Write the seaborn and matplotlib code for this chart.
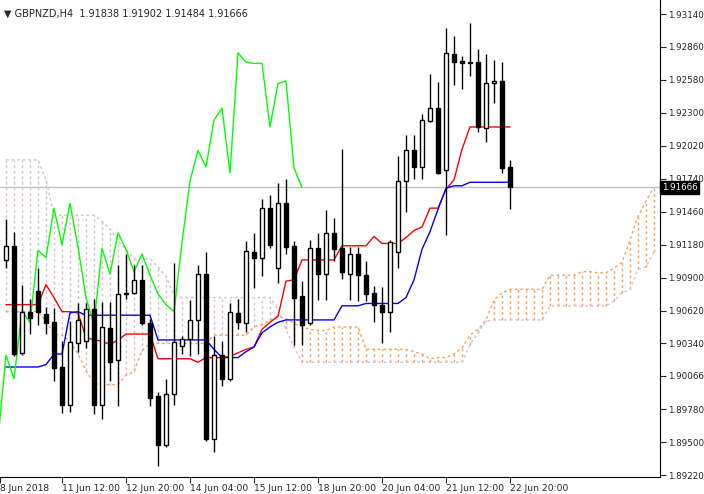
import matplotlib
matplotlib.use("Agg")
import matplotlib.pyplot as plt
import numpy as np
import seaborn as sns

sns.set_style("white")
plt.rcParams['font.family'] = ['DejaVu Sans']

# GBPNZD H4 candles (open, high, low, close)
opens = [1.9105, 1.9117, 1.9026, 1.9061, 1.9079, 1.9059, 1.9052, 1.9014, 1.8982, 1.9034,
         1.9036, 1.9063, 1.8982, 1.9047, 1.9020, 1.9076, 1.9077, 1.9088, 1.9051, 1.8989,
         1.8948, 1.8991, 1.9032, 1.9038, 1.9054, 1.9093, 1.8953, 1.9024, 1.9004, 1.9060,
         1.9051, 1.9112, 1.9107, 1.9149, 1.9098, 1.9153, 1.9117, 1.9074, 1.9051, 1.9115,
         1.9093, 1.9128, 1.9115, 1.9093, 1.9110, 1.9092, 1.9077, 1.9067, 1.9061, 1.9112,
         1.9172, 1.9198, 1.9184, 1.9223, 1.9234, 1.9181, 1.9280, 1.9274, 1.9273, 1.9273,
         1.9217, 1.9255, 1.9257, 1.91838]
highs = [1.9140, 1.9129, 1.9084, 1.9072, 1.9098, 1.9065, 1.9064, 1.9036, 1.9053, 1.9068,
         1.9068, 1.9072, 1.9069, 1.9069, 1.9101, 1.9110, 1.9101, 1.9101, 1.9055, 1.8993,
         1.9004, 1.9102, 1.9040, 1.9071, 1.9101, 1.9112, 1.9040, 1.9036, 1.9068, 1.9072,
         1.9121, 1.9128, 1.9157, 1.9160, 1.9170, 1.9174, 1.9121, 1.9087, 1.9122, 1.9128,
         1.9147, 1.9141, 1.9199, 1.9116, 1.9116, 1.9104, 1.9083, 1.9082, 1.9122, 1.9193,
         1.9211, 1.9211, 1.9229, 1.9263, 1.9256, 1.9302, 1.9295, 1.9278, 1.9306, 1.9284,
         1.9280, 1.9275, 1.9273, 1.91902]
lows = [1.9098, 1.9023, 1.9024, 1.9042, 1.9050, 1.9042, 1.9002, 1.8975, 1.8976, 1.9027,
        1.9030, 1.8974, 1.8970, 1.9002, 1.8981, 1.9072, 1.9076, 1.9050, 1.8981, 1.8930,
        1.8946, 1.8982, 1.9025, 1.9023, 1.9025, 1.8951, 1.8942, 1.8998, 1.9002, 1.9046,
        1.9044, 1.9081, 1.9091, 1.9115, 1.9085, 1.9110, 1.9033, 1.9033, 1.9050, 1.9071,
        1.9071, 1.9104, 1.9089, 1.9071, 1.9070, 1.9070, 1.9052, 1.9034, 1.9044, 1.9098,
        1.9146, 1.9174, 1.9174, 1.9222, 1.9178, 1.9126, 1.9254, 1.9250, 1.9261, 1.9214,
        1.9205, 1.9238, 1.9179, 1.91484]
closes = [1.9117, 1.9025, 1.9061, 1.9056, 1.9061, 1.9051, 1.9013, 1.8982, 1.9035, 1.9054,
          1.9063, 1.8982, 1.9048, 1.9018, 1.9076, 1.9077, 1.9088, 1.9051, 1.8988, 1.8948,
          1.8991, 1.9035, 1.9038, 1.9054, 1.9093, 1.8953, 1.9024, 1.9004, 1.9061, 1.9052,
          1.9113, 1.9107, 1.9149, 1.9118, 1.9153, 1.9116, 1.9073, 1.9050, 1.9115, 1.9093,
          1.9128, 1.9114, 1.9095, 1.9110, 1.9092, 1.9076, 1.9067, 1.9061, 1.9120, 1.9172,
          1.9198, 1.9184, 1.9224, 1.9234, 1.9179, 1.9281, 1.9273, 1.9272, 1.9272, 1.9218,
          1.9255, 1.9257, 1.9183, 1.91666]

# Ichimoku lines
tenkan = [1.9067] * 5 + [1.9084, 1.9073, 1.9061, 1.9061, 1.9060, 1.9039, 1.9037, 1.9036,
          1.9033, 1.9037] + [1.9042] * 4 + [1.9021] * 5 + [1.9018, 1.9022, 1.9022, 1.9022,
          1.9023, 1.9026, 1.9029, 1.9031, 1.9046, 1.9052, 1.9057, 1.9087, 1.9088] + \
         [1.9105] * 5 + [1.9117] * 4 + [1.9125, 1.9119, 1.9119, 1.9119, 1.9124, 1.9130,
          1.9133, 1.9149, 1.9149, 1.9165, 1.9173, 1.9199] + [1.9218] * 6
kijun = [1.9014] * 5 + [1.9016, 1.9025, 1.9025, 1.9060, 1.9061] + [1.9058] * 9 + \
        [1.9037] * 7 + [1.9029, 1.9022, 1.9022, 1.9022, 1.9027, 1.9031, 1.9043, 1.9048,
        1.9052] + [1.9054] * 7 + [1.9066] * 3 + [1.9068] * 5 + [1.9073, 1.9088, 1.9114,
        1.9129, 1.9148, 1.9166, 1.9168, 1.9168] + [1.9171] * 6
span_a = [1.9061] * 5 + [1.9053, 1.9042, 1.9041, 1.9036, 1.9025, 1.9011, 1.9000, 1.8999,
          1.8999, 1.8999, 1.9007, 1.9010, 1.9028] + [1.9034] * 8 + [1.9041] * 5 + \
         [1.9048, 1.9050, 1.9054, 1.9057, 1.9055, 1.9051, 1.9048, 1.9046, 1.9045, 1.9045] + \
         [1.9048] * 4 + [1.9029] * 6 + [1.9027, 1.9025, 1.9021, 1.9022, 1.9022, 1.9025,
          1.9030, 1.9041, 1.9046, 1.9054, 1.9071, 1.9077] + [1.9080] * 5 + [1.9092] * 4 + \
         [1.9095, 1.9095, 1.9094, 1.9094, 1.9098, 1.9103, 1.9122, 1.9142, 1.9155, 1.9167]
span_b = [1.9190] * 5 + [1.9173] + [1.9143] * 6 + [1.9138, 1.9131, 1.9121, 1.9114,
          1.9106, 1.9106, 1.9106, 1.9099, 1.9091, 1.9075] + [1.9073] * 12 + \
         [1.9063, 1.9046, 1.9031] + [1.9018] * 21 + [1.9033, 1.9043, 1.9053] + \
         [1.9054] * 7 + [1.9066] * 8 + [1.9070, 1.9077, 1.9080, 1.9097, 1.9099, 1.9112]

xtick_pos = [-0.75, 7, 15, 23, 31, 39, 47, 55, 63]
xtick_labels = ['8 Jun 2018', '11 Jun 12:00', '12 Jun 20:00', '14 Jun 04:00', '15 Jun 12:00',
                '18 Jun 20:00', '20 Jun 04:00', '21 Jun 12:00', '22 Jun 20:00']
ytick_vals = [1.89220, 1.89500, 1.89780, 1.90066, 1.90340, 1.90620, 1.90900, 1.91180,
              1.91460, 1.91740, 1.92020, 1.92300, 1.92580, 1.92860, 1.93140]
last_price = 1.91666

fig = plt.figure(figsize=(7.04, 4.94), dpi=100)
ax = fig.add_axes([0, 17 / 494, 660 / 704, 477 / 494])

n = len(closes)
idx = np.arange(n)
cidx = np.arange(len(span_a))
a = np.array(span_a)
b = np.array(span_b)

# cloud hatching
up = a >= b
ax.vlines(cidx[up], b[up], a[up], colors='#f4a460', linestyles=(0, (2, 2)), lw=1)
ax.vlines(cidx[~up], a[~up], b[~up], colors='#d8bfd8', linestyles=(0, (2, 2)), lw=1)
ax.plot(cidx, a, color='#f4a460', ls=(0, (2, 2)), lw=1)
ax.plot(cidx, b, color='#d8bfd8', ls=(0, (2, 2)), lw=1)

ax.axhline(last_price, color='#c0c0c0', lw=1)

# lines
sns.lineplot(x=idx, y=tenkan, color='#ff0000', lw=1, ax=ax)
sns.lineplot(x=idx, y=kijun, color='#0000ff', lw=1, ax=ax)
chikou = closes[25:]
sns.lineplot(x=np.arange(len(chikou)) - 1, y=chikou, color='#00ff00', lw=1, ax=ax)

# candles
o = np.array(opens); c = np.array(closes)
ax.vlines(idx, lows, highs, colors='black', lw=1, zorder=3)
bull = c >= o
ax.bar(idx[bull], c[bull] - o[bull], bottom=o[bull], width=0.6, color='white',
       edgecolor='black', lw=1, zorder=4)
ax.bar(idx[~bull], o[~bull] - c[~bull], bottom=c[~bull], width=0.6, color='black',
       edgecolor='black', lw=1, zorder=4)

ax.set_xlim(-0.75, 81.75)
ax.set_ylim(1.89205, 1.93259)
ax.yaxis.tick_right()
ax.set_yticks(ytick_vals)
ax.set_yticklabels([f'{v:.5f}' for v in ytick_vals], fontsize=6.3)
ax.set_xticks(xtick_pos)
ax.set_xticklabels(xtick_labels, fontsize=6.6, ha='left')
ax.tick_params(axis='y', direction='out', length=4, width=0.8, pad=2, right=True)
ax.tick_params(axis='x', direction='out', length=4, width=0.8, pad=1, bottom=True)
for s in ['top', 'left']:
    ax.spines[s].set_visible(False)
for s in ['right', 'bottom']:
    ax.spines[s].set_color('black')
    ax.spines[s].set_linewidth(0.8)

ax.text(1.003, (last_price - 1.89205) / (1.93259 - 1.89205), f'{last_price:.5f}',
        transform=ax.transAxes, fontsize=6.3, color='white', va='center', ha='left',
        bbox=dict(boxstyle='square,pad=0.2', fc='black', ec='black'), zorder=10)
fig.text(4 / 704, 1 - 14 / 494, '\u25bc GBPNZD,H4  1.91838 1.91902 1.91484 1.91666',
         fontsize=7, va='center', ha='left')

fig.savefig('out.png', dpi=100)
